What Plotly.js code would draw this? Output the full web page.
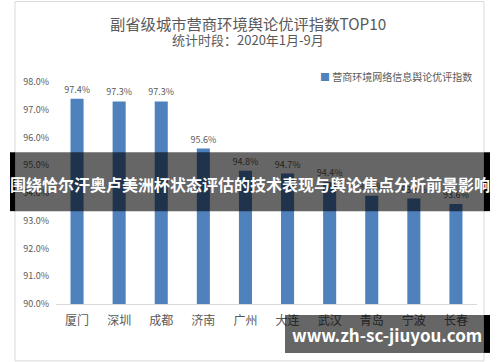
<!DOCTYPE html>
<html>
<head>
<meta charset="utf-8">
<script src="https://cdn.plot.ly/plotly-3.0.1.min.js"></script>
<style>html,body{margin:0;padding:0;background:#fff;}#chart{width:500px;height:362px;}</style>
</head>
<body>
<div id="chart"></div>
<script>
const cities = ["厦门","深圳","成都","济南","广州","大连","武汉","青岛","宁波","长春"];
const values = [97.4, 97.3, 97.3, 95.6, 94.8, 94.7, 94.4, 93.9, 93.8, 93.6];
const seriesName = "营商环境网络信息舆论优评指数";
const titleText = "副省级城市营商环境舆论优评指数TOP10";
const subtitleText = "统计时段：2020年1月-9月";
const bannerText = "围绕恰尔汗奥卢美洲杯状态评估的技术表现与舆论焦点分析前景影响";
const watermarkText = "www.zh-sc-jiuyou.com";

const W = 500, H = 362;
const L = 56, R = 477, T = 81.6, B = 304;
const px = x => (x - L) / (R - L);
const py = y => (B - y) / (B - T);
const font = "'Noto Sans CJK SC', 'Noto Sans', sans-serif";
const gray = "#595959";

const trace = {
  type: "bar",
  x: cities,
  y: values,
  name: seriesName,
  marker: {color: "#4f81bd"},
  width: 0.31,
  text: values.map(v => v.toFixed(1) + "%"),
  textposition: "outside",
  constraintext: "none",
  textfont: {family: font, size: 9, color: gray},
  cliponaxis: false,
  showlegend: false,
  hovertemplate: "%{x}: %{y:.1f}%<extra></extra>"
};

const layout = {
  width: W, height: H,
  margin: {l: L, r: W - R, t: T, b: H - B, pad: 0},
  paper_bgcolor: "#fff",
  plot_bgcolor: "#fff",
  font: {family: font, color: gray},
  bargap: 0.69,
  xaxis: {
    type: "category",
    showgrid: false,
    showline: true,
    linecolor: "#d9d9d9",
    linewidth: 1,
    ticks: "",
    tickfont: {family: font, size: 12, color: gray},
    ticklabelstandoff: 6,
    fixedrange: true
  },
  yaxis: {
    range: [90, 98],
    dtick: 1,
    tickformat: ".1f",
    ticksuffix: "%",
    showgrid: false,
    zeroline: false,
    showline: false,
    ticks: "",
    ticklabelstandoff: 6,
    tickfont: {family: font, size: 9, color: gray},
    fixedrange: true
  },
  shapes: [
    {type: "rect", xref: "paper", yref: "paper", x0: px(15), x1: px(484), y0: py(361), y1: py(1),
     line: {color: "#d9d9d9", width: 1}, fillcolor: "rgba(0,0,0,0)", layer: "below"},
    {type: "rect", xref: "paper", yref: "paper", x0: px(10), x1: px(15), y0: py(211), y1: py(152),
     line: {width: 0}, fillcolor: "#000", layer: "above"},
    {type: "rect", xref: "paper", yref: "paper", x0: px(484), x1: px(490), y0: py(211), y1: py(152),
     line: {width: 0}, fillcolor: "#000", layer: "above"},
    {type: "rect", xref: "paper", yref: "paper", x0: px(15), x1: px(484), y0: py(211), y1: py(152),
     line: {width: 0}, fillcolor: "rgba(0,0,0,0.6)", layer: "above"},
    {type: "rect", xref: "paper", yref: "paper", x0: px(285), x1: px(484), y0: py(353), y1: py(315),
     line: {width: 0}, fillcolor: "rgba(0,0,0,0.6)", layer: "above"},
    {type: "rect", xref: "paper", yref: "paper", x0: px(484), x1: px(490), y0: py(353), y1: py(315),
     line: {width: 0}, fillcolor: "#000", layer: "above"}
  ],
  annotations: [
    {xref: "paper", yref: "paper", x: px(248), y: py(22), text: titleText, showarrow: false,
     font: {family: font, size: 15.3, color: gray}, xanchor: "center", yanchor: "middle"},
    {xref: "paper", yref: "paper", x: px(248), y: py(39), text: subtitleText, showarrow: false,
     font: {family: font, size: 13, color: gray}, xanchor: "center", yanchor: "middle"},
    {xref: "paper", yref: "paper", x: px(318), y: py(76.5), showarrow: false,
     text: "<span style='color:#4f81bd'>■</span> " + seriesName,
     font: {family: font, size: 10, color: gray}, xanchor: "left", yanchor: "middle"},
    {xref: "paper", yref: "paper", x: px(250), y: py(184), text: "<b>" + bannerText + "</b>", showarrow: false,
     font: {family: font, size: 16, color: "#fff"}, xanchor: "center", yanchor: "middle"},
    {xref: "paper", yref: "paper", x: px(387), y: py(335), text: "<b>" + watermarkText + "</b>", showarrow: false,
     font: {family: font, size: 17, color: "#fff"}, xanchor: "center", yanchor: "middle"}
  ]
};

Plotly.newPlot("chart", [trace], layout, {displayModeBar: false, staticPlot: true});
</script>
</body>
</html>
